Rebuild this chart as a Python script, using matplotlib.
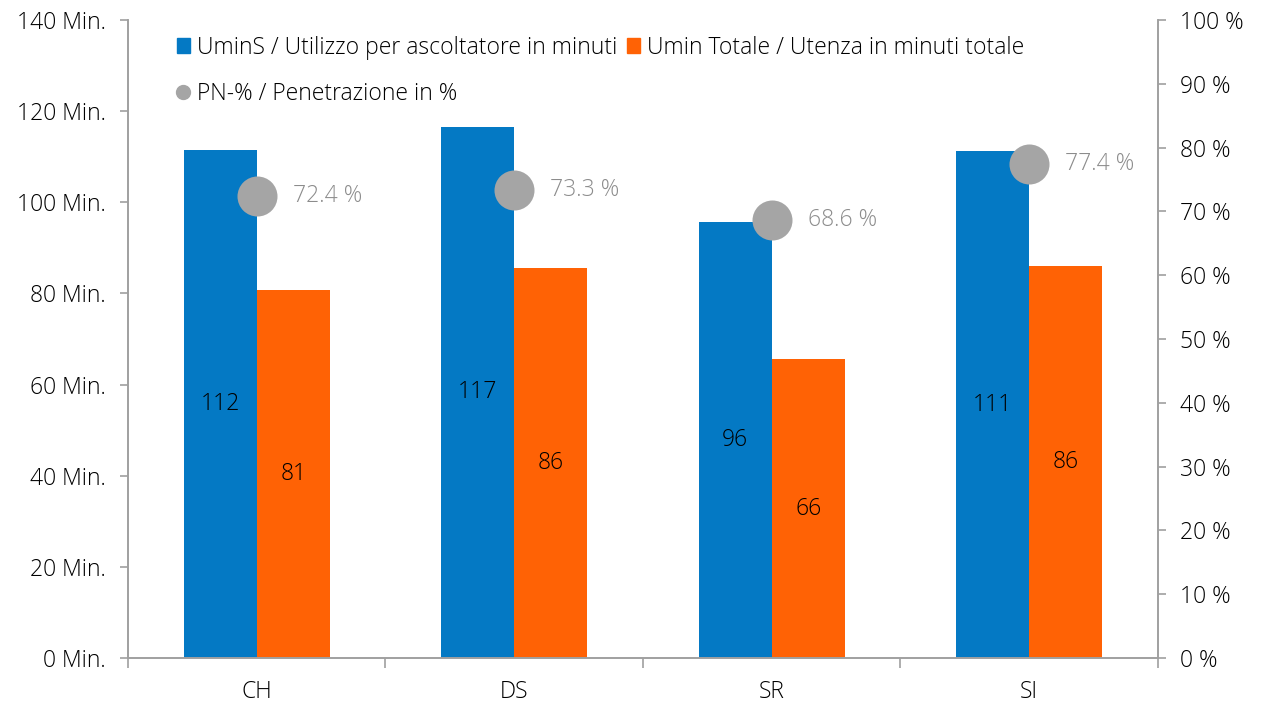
import numpy as np
import matplotlib.pyplot as plt
from matplotlib.lines import Line2D
from matplotlib.patches import Patch

plt.rcParams['font.family'] = ['Open Sans', 'DejaVu Sans']
plt.rcParams['font.weight'] = 'light'

# data
categories = ['CH', 'DS', 'SR', 'SI']
umins = [111.5, 116.6, 95.6, 111.2]
umin_totale = [80.7, 85.5, 65.5, 86.0]
penetration = [72.4, 73.3, 68.6, 77.4]

BLUE = '#0479c4'
ORANGE = '#ff6205'
GREY = '#a5a5a5'
AXIS = '#a0a0a0'
FS = 16.5

fig = plt.figure(figsize=(12.61, 7.03), dpi=100)
ax = fig.add_axes([0.1015, 0.064, 0.8168, 0.9076])
ax2 = ax.twinx()

x = np.arange(len(categories))
w = 0.284
b1 = ax.bar(x - w / 2, umins, w, color=BLUE, zorder=2)
b2 = ax.bar(x + w / 2, umin_totale, w, color=ORANGE, zorder=2)

for rects, vals in ((b1, umins), (b2, umin_totale)):
    for r, v in zip(rects, vals):
        ax.text(r.get_x() + r.get_width() / 2, v / 2, f'{v:.0f}',
                ha='center', va='center', fontsize=FS, color='black')

ax2.scatter(x, penetration, s=830, color=GREY, zorder=3, linewidths=0)
for xi, p in zip(x, penetration):
    ax2.annotate(f'{p:.1f} %', (xi, p), xytext=(26, 0), textcoords='offset points',
                 ha='left', va='center', fontsize=FS, color='#8c8c8c')

ax.set_xlim(-0.5, len(categories) - 0.5)
ax.set_ylim(0, 140)
ax2.set_ylim(0, 100)
ax.set_yticks(np.arange(0, 141, 20))
ax.set_yticklabels([f'{v} Min.' for v in range(0, 141, 20)])
ax2.set_yticks(np.arange(0, 101, 10))
ax2.set_yticklabels([f'{v} %' for v in range(0, 101, 10)])
ax.set_xticks(x)
ax.set_xticklabels(categories)
ax.set_xticks(np.arange(-0.5, len(categories), 1), minor=True)

for a in (ax, ax2):
    a.spines['top'].set_visible(False)
    for s in ('left', 'right', 'bottom'):
        a.spines[s].set_color(AXIS)
        a.spines[s].set_linewidth(1.2)
    a.tick_params(axis='y', colors=AXIS, labelcolor='black', labelsize=FS,
                  length=6, width=1.2, pad=10)
ax.tick_params(axis='x', which='major', length=0, labelsize=FS, pad=16)
ax.tick_params(axis='x', which='minor', length=7, width=1.2, color=AXIS)

handles = [Patch(color=BLUE),
           Line2D([], [], marker='o', linestyle='none', color=GREY, markersize=10),
           Patch(color=ORANGE)]
labels = ['UminS / Utilizzo per ascoltatore in minuti',
          'PN-% / Penetrazione in %',
          'Umin Totale / Utenza in minuti totale']
leg = ax.legend(handles, labels, ncol=2, loc='upper left',
                bbox_to_anchor=(0.14, 0.949), bbox_transform=fig.transFigure,
                frameon=False, fontsize=FS, handlelength=0.6, handleheight=0.6,
                handletextpad=0.3, columnspacing=0.4, labelspacing=0.95,
                borderaxespad=0, borderpad=0)

fig.savefig('out.png', dpi=100)
